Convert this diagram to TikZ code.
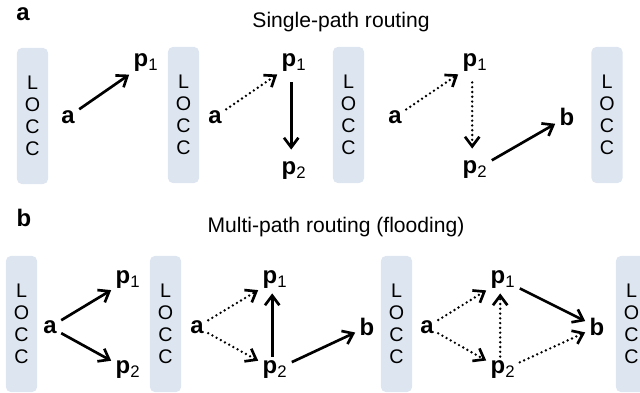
\documentclass[tikz,border=0pt]{standalone}
\usepackage{fontspec}
\setmainfont{Liberation Sans}
\usetikzlibrary{arrows.meta}
\usetikzlibrary{positioning}
\definecolor{Locc-1}{RGB}{221,229,240}
\newcommand{\pp}[1]{\textbf{p}\textsubscript{#1}}

\begin{document}
\begin{tikzpicture}[x=0.025cm, y=-0.025cm]
    \tikzset{ locc/.style ={fill=Locc-1, rounded corners=1.2mm, minimum width=0.775cm, minimum height=3.4cm, align=center, font=\fontsize{14}{15.5}\selectfont} }
    \tikzset{ pnt/.style  ={font=\fontsize{17}{18}\selectfont, inner sep=3pt} }
    \tikzset{ ttl/.style  ={font=\fontsize{15}{18}\selectfont} }
    \tikzset{ pnl/.style  ={font=\fontsize{17}{18}\selectfont\bfseries} }
    \tikzset{ arr/.style  ={-{Straight Barb[length=2.4mm, width=3.6mm]}, line width=1.9pt} }
    \tikzset{ dar/.style  ={arr, dash pattern=on 0pt off 3.4pt, line cap=round} }
    \tikzset{ vrt/.style  ={shorten <=1.5mm, shorten >=2mm} }

    \clip (0,0) rectangle (640,393);

    % panel a
    \node[pnl] (la) at ( 23, 14) {a};
    \node[ttl] (ta) at (341, 22) {Single-path routing};

    \node[locc] (a_l1) at ( 32.5,116) {L\\O\\C\\C};
    \node[locc] (a_l2) at (183.5,115) {L\\O\\C\\C};
    \node[locc] (a_l3) at (348.5,115) {L\\O\\C\\C};
    \node[locc] (a_l4) at (607.0,115) {L\\O\\C\\C};

    \node[pnt] (a1_a)  at ( 68,117) {\textbf{a}};
    \node[pnt] (a1_p1) at (146, 63) {\pp{1}};
    \node[pnt] (a2_a)  at (215,117) {\textbf{a}};
    \node[pnt] (a2_p1) at (294, 63) {\pp{1}};
    \node[pnt] (a2_p2) at (294,171) {\pp{2}};
    \node[pnt] (a3_a)  at (395,117) {\textbf{a}};
    \node[pnt] (a3_p1) at (475, 63) {\pp{1}};
    \node[pnt] (a3_p2) at (475,170) {\pp{2}};
    \node[pnt] (a3_b)  at (567,117) {\textbf{b}};

    \draw[arr] (a1_a) -- (a1_p1);
    \draw[dar] (a2_a) -- (a2_p1);
    \draw[arr, vrt] ([xshift=-0.7mm]a2_p1.south) -- ([xshift=-0.7mm]a2_p2.north);
    \draw[dar] (a3_a) -- (a3_p1);
    \draw[dar, vrt] ([xshift=-0.7mm]a3_p1.south) -- ([xshift=-0.7mm]a3_p2.north);
    \draw[arr] (a3_p2) -- (a3_b);

    % panel b
    \node[pnl] (lb) at ( 24,218) {b};
    \node[ttl] (tb) at (336,227) {Multi-path routing (flooding)};

    \node[locc] (b_l1) at ( 21.5,324) {L\\O\\C\\C};
    \node[locc] (b_l2) at (165.5,324) {L\\O\\C\\C};
    \node[locc] (b_l3) at (396.5,324) {L\\O\\C\\C};
    \node[locc] (b_l4) at (631.5,324) {L\\O\\C\\C};

    \node[pnt] (b1_a)  at ( 50,327) {\textbf{a}};
    \node[pnt] (b1_p1) at (128,280) {\pp{1}};
    \node[pnt] (b1_p2) at (128,370) {\pp{2}};
    \node[pnt] (b2_a)  at (197,327) {\textbf{a}};
    \node[pnt] (b2_p1) at (275,280) {\pp{1}};
    \node[pnt] (b2_p2) at (275,370) {\pp{2}};
    \node[pnt] (b2_b)  at (367,327) {\textbf{b}};
    \node[pnt] (b3_a)  at (427,327) {\textbf{a}};
    \node[pnt] (b3_p1) at (503,280) {\pp{1}};
    \node[pnt] (b3_p2) at (503,370) {\pp{2}};
    \node[pnt] (b3_b)  at (597,327) {\textbf{b}};

    \draw[arr] (b1_a) -- (b1_p1);
    \draw[arr] (b1_a) -- (b1_p2);
    \draw[dar] (b2_a) -- (b2_p1);
    \draw[dar] (b2_a) -- (b2_p2);
    \draw[arr] ([xshift=-0.7mm]b2_p2.north) -- ([xshift=-0.7mm]b2_p1.south);
    \draw[arr] (b2_p2) -- (b2_b);
    \draw[dar] (b3_a) -- (b3_p1);
    \draw[dar] (b3_a) -- (b3_p2);
    \draw[dar] ([xshift=-0.7mm]b3_p2.north) -- ([xshift=-0.7mm]b3_p1.south);
    \draw[arr] (b3_p1) -- (b3_b);
    \draw[dar] (b3_p2) -- (b3_b);
\end{tikzpicture}
\end{document}
